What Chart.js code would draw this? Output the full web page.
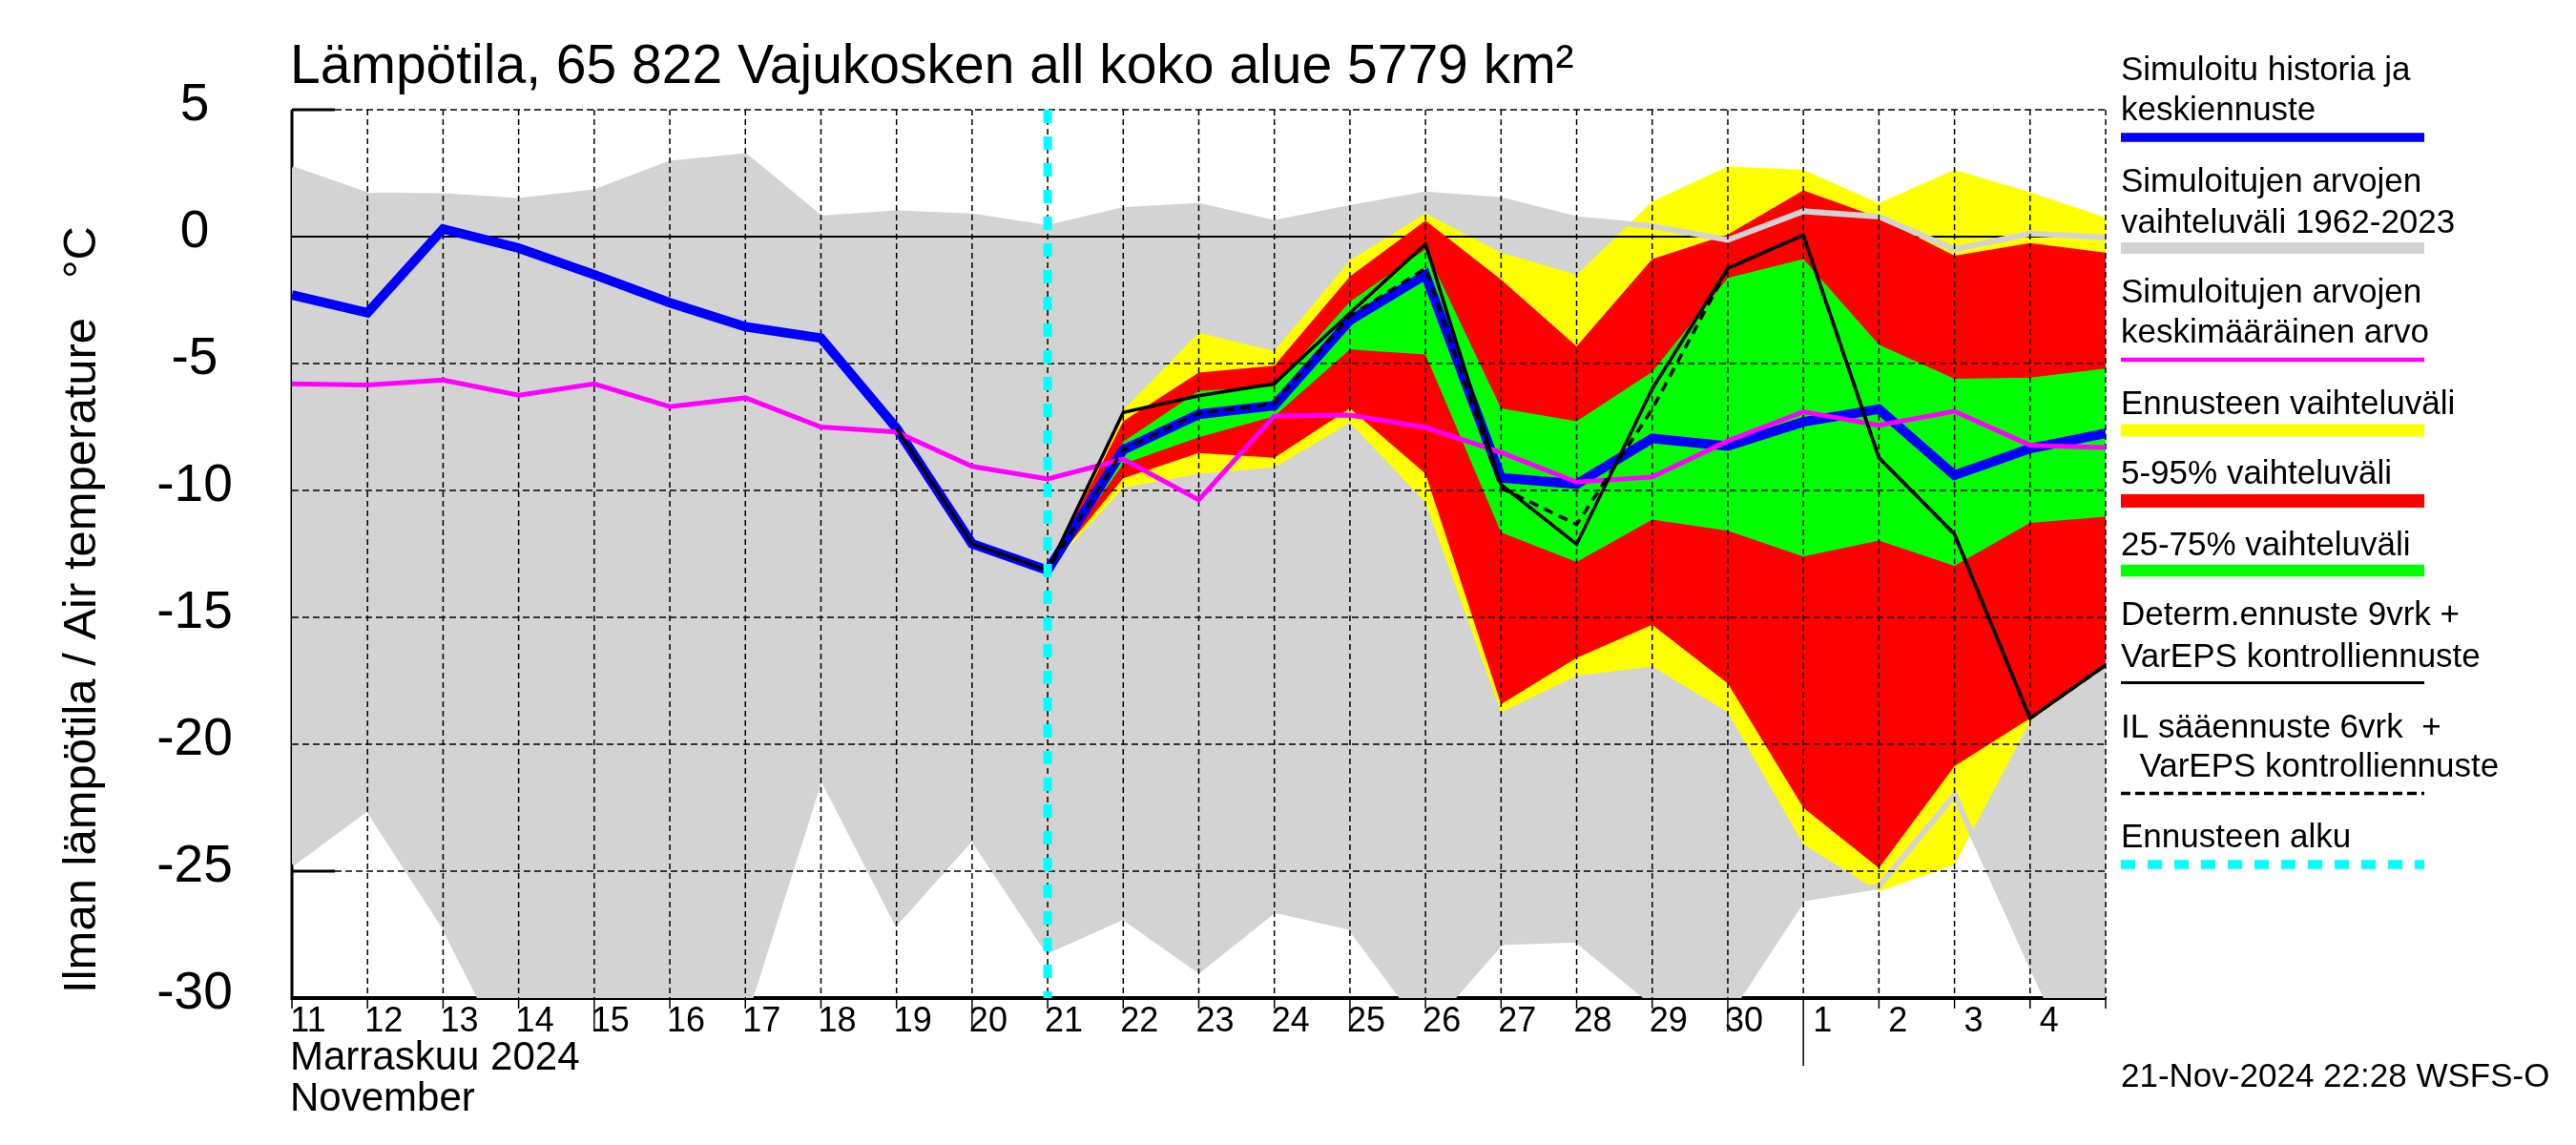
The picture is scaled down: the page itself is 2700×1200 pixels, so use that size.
<!DOCTYPE html>
<html>
<head>
<meta charset="utf-8">
<script src="https://cdn.jsdelivr.net/npm/chart.js@4.4.1/dist/chart.umd.min.js"></script>
<style>
  html, body { margin: 0; padding: 0; background: #fff; }
  canvas { display: block; }
</style>
</head>
<body>
<canvas id="tempChart" width="2700" height="1200" style="width:2700px;height:1200px"></canvas>
<script>
// Day labels, Nov 11 .. Dec 5 (index 0..24); forecast starts at index 10 (Nov 21)
const dayLabels = ['11','12','13','14','15','16','17','18','19','20','21','22','23','24','25','26','27','28','29','30','1','2','3','4','5'];
const yTicks = [5, 0, -5, -10, -15, -20, -25, -30];
const forecastStart = 10;

// Simulated history + median forecast
const simMedian = [-2.3, -3.0, 0.3, -0.45, -1.5, -2.6, -3.55, -4.0, -7.55, -12.1, -13.15, -8.4, -7.0, -6.65, -3.3, -1.5, -9.5, -9.75, -7.95, -8.25, -7.3, -6.8, -9.4, -8.35, -7.75];
// Mean of simulated values (climatology)
const climMean = [-5.8, -5.85, -5.65, -6.25, -5.8, -6.7, -6.35, -7.5, -7.7, -9.05, -9.55, -8.77, -10.37, -7.07, -7.03, -7.52, -8.5, -9.67, -9.47, -8.05, -6.9, -7.43, -6.88, -8.22, -8.31];
// Range of simulated values 1962-2023
const climMax = [2.67, 1.63, 1.6, 1.41, 1.75, 2.88, 3.17, 0.71, 0.92, 0.8, 0.34, 1.04, 1.21, 0.54, 1.13, 1.66, 1.44, 0.69, 0.41, -0.13, 1.0, 0.79, -0.5, 0.12, -0.03];
const climMin = [-24.7, -22.5, -27.1, -33, -33, -33, -30.6, -21.2, -27.0, -23.66, -28.13, -26.8, -28.9, -26.53, -27.2, -31.2, -27.8, -27.7, -30.15, -30.6, -26.07, -25.6, -22.0, -28.6, -35];

// Forecast bands, index 10..24 (Nov 21 .. Dec 5)
const ensMax = [-13.15, -6.83, -3.79, -4.51, -0.94, 0.91, -0.63, -1.5, 1.38, 2.76, 2.63, 1.32, 2.63, 1.75, 0.75];
const ensMin = [-13.15, -9.9, -9.34, -9.09, -7.33, -10.47, -18.74, -17.3, -16.94, -18.74, -23.94, -25.8, -24.75, -19.1, -16.95];
const p95 = [-13.15, -7.27, -5.36, -5.08, -1.57, 0.63, -1.69, -4.32, -0.88, 0.08, 1.82, 0.75, -0.75, -0.25, -0.63];
const p05 = [-13.15, -9.52, -8.52, -8.71, -6.77, -9.34, -18.42, -16.6, -15.29, -17.6, -22.5, -24.88, -20.86, -18.98, -16.9];
const p75 = [-13.15, -8.08, -6.08, -5.9, -2.57, -0.5, -6.77, -7.27, -5.33, -1.63, -0.88, -4.26, -5.6, -5.55, -5.2];
const p25 = [-13.15, -8.96, -7.9, -7.08, -4.45, -4.64, -11.65, -12.82, -11.15, -11.59, -12.6, -11.97, -12.97, -11.28, -11.03];

// Deterministic and IL forecasts, index 8..24 (Nov 19 .. Dec 5)
const detStart = 8;
const detForecast = [-7.55, -12.1, -13.15, -6.93, -6.27, -5.79, -3.01, -0.29, -9.77, -12.12, -6.0, -1.25, 0.06, -8.71, -11.72, -18.98, -16.88];
const ilForecast = [-7.55, -12.1, -13.15, -8.4, -6.96, -6.58, -3.13, -1.25, -9.9, -11.34, -6.8, -1.25, 0.06, -8.71, -11.72, -18.98, -16.88];

const GREY = '#d3d3d3';
const FONT = '"Liberation Sans", Arial, Helvetica, sans-serif';

const pts = (arr, start) => arr.map((v, i) => ({ x: start + i, y: v }));

function edge(data, order) {
  return { data, borderColor: 'rgba(0,0,0,0)', borderWidth: 0, pointRadius: 0, fill: false, order };
}
function band(data, color, order) {
  return { data, borderColor: 'rgba(0,0,0,0)', borderWidth: 0, pointRadius: 0, fill: '-1', backgroundColor: color, order };
}
function line(data, color, width, order, dash) {
  return { data, borderColor: color, borderWidth: width, pointRadius: 0, fill: false, order, borderDash: dash || [], tension: 0 };
}

const datasets = [
  edge(pts(climMin, 0), 14),                       // 0
  band(pts(climMax, 0), GREY, 13),                  // 1
  edge(pts(ensMin, forecastStart), 12),             // 2
  band(pts(ensMax, forecastStart), '#ffff00', 11),  // 3
  edge(pts(p05, forecastStart), 10),                // 4
  band(pts(p95, forecastStart), '#ff0000', 9),      // 5
  edge(pts(p25, forecastStart), 8),                 // 6
  band(pts(p75, forecastStart), '#00ff00', 7),      // 7
  line(pts(climMax, 0), GREY, 6, 6),                // 8
  line(pts(climMin, 0), GREY, 6, 5),                // 9
  line(pts(simMedian, 0), '#0000ff', 10, 4),        // 10
  line(pts(climMean, 0), '#ff00ff', 5, 3),          // 11
  line(pts(detForecast, detStart), '#000000', 3.5, 2),        // 12
  line(pts(ilForecast, detStart), '#000000', 3.5, 1, [10, 7]) // 13
];

const legendItems = [
  { lines: ['Simuloitu historia ja', 'keskiennuste'], base: [84, 126], bar: { y: 144, w: 9.6, color: '#0000ff' } },
  { lines: ['Simuloitujen arvojen', 'vaihteluväli 1962-2023'], base: [201, 244], bar: { y: 260, w: 12, color: GREY } },
  { lines: ['Simuloitujen arvojen', 'keskimääräinen arvo'], base: [317, 359], bar: { y: 377, w: 4.5, color: '#ff00ff' } },
  { lines: ['Ennusteen vaihteluväli'], base: [434], bar: { y: 451, w: 13, color: '#ffff00' } },
  { lines: ['5-95% vaihteluväli'], base: [507], bar: { y: 525, w: 14, color: '#ff0000' } },
  { lines: ['25-75% vaihteluväli'], base: [582], bar: { y: 598, w: 12.5, color: '#00ff00' } },
  { lines: ['Determ.ennuste 9vrk +', 'VarEPS kontrolliennuste'], base: [655, 699], bar: { y: 715.5, w: 3, color: '#000000' } },
  { lines: ['IL sääennuste 6vrk  +', '  VarEPS kontrolliennuste'], base: [773, 814], bar: { y: 831.5, w: 3.5, color: '#000000', dash: [10, 5] } },
  { lines: ['Ennusteen alku'], base: [888], bar: { y: 906, w: 9.5, color: '#00ffff', dash: [15, 13] } }
];

function hLine(ctx, x0, x1, y, w, color, dash) {
  ctx.save();
  ctx.beginPath();
  ctx.setLineDash(dash || []);
  ctx.lineWidth = w;
  ctx.strokeStyle = color;
  ctx.moveTo(x0, y);
  ctx.lineTo(x1, y);
  ctx.stroke();
  ctx.restore();
}
function vLine(ctx, x, y0, y1, w, color, dash) {
  ctx.save();
  ctx.beginPath();
  ctx.setLineDash(dash || []);
  ctx.lineWidth = w;
  ctx.strokeStyle = color;
  ctx.moveTo(x, y0);
  ctx.lineTo(x, y1);
  ctx.stroke();
  ctx.restore();
}

const decorPlugin = {
  id: 'decor',
  beforeDraw(chart) {
    const ctx = chart.ctx;
    ctx.save();
    ctx.fillStyle = '#fff';
    ctx.fillRect(0, 0, chart.width, chart.height);
    ctx.restore();
  },
  beforeDatasetsDraw(chart) {
    const { ctx, chartArea: a, scales: { x, y } } = chart;
    // axes lie under the grey fill
    vLine(ctx, a.left, a.top, a.bottom + 2, 3, '#000');
    hLine(ctx, a.left - 1, a.right + 1, a.bottom, 4, '#000');
    hLine(ctx, a.left, a.left + 45, y.getPixelForValue(5), 3, '#000');
    hLine(ctx, a.left, a.left + 45, y.getPixelForValue(-25), 3, '#000');
  },
  afterDatasetDraw(chart, args) {
    const { ctx, chartArea: a, scales: { x, y } } = chart;
    if (args.index === 3) {
      hLine(ctx, a.left, a.right, y.getPixelForValue(0), 2, '#000');
    }
    if (args.index === 9) {
      ctx.save();
      ctx.beginPath();
      ctx.rect(a.left, a.top - 2, a.right - a.left + 2, a.bottom - a.top + 2);
      ctx.clip();
      for (let i = 1; i < dayLabels.length; i++) {
        vLine(ctx, x.getPixelForValue(i), a.top, a.bottom, 1.5, '#000', [6, 4]);
      }
      yTicks.forEach(v => {
        if (v === 0 || v === -30) return;
        const x0 = (v === 5 || v === -25) ? a.left + 45 : a.left;
        hLine(ctx, x0, a.right, y.getPixelForValue(v), 1.5, '#000', [7, 4]);
      });
      ctx.restore();
    }
  },
  afterDatasetsDraw(chart) {
    const { ctx, chartArea: a, scales: { x, y } } = chart;
    // forecast start
    vLine(ctx, x.getPixelForValue(forecastStart), a.top, a.bottom, 9, '#00ffff', [14, 14]);

    // x ticks below axis
    for (let i = 0; i < dayLabels.length; i++) {
      const px = x.getPixelForValue(i);
      let len = 11;
      if (i < 20 && Number(dayLabels[i]) % 5 === 0) len = 35;
      if (dayLabels[i] === '1') len = 71;
      vLine(ctx, px, a.bottom, a.bottom + len, 1.5, '#000');
    }

    ctx.save();
    ctx.fillStyle = '#000';
    // x tick labels
    ctx.font = '36px ' + FONT;
    ctx.textAlign = 'center';
    ctx.textBaseline = 'alphabetic';
    for (let i = 0; i < dayLabels.length - 1; i++) {
      const px = x.getPixelForValue(i);
      const off = dayLabels[i].length === 1 ? 20 : 17;
      ctx.fillText(dayLabels[i], px + off, 1081);
    }
    ctx.textAlign = 'left';
    ctx.font = '42px ' + FONT;
    ctx.fillText('Marraskuu 2024', 304, 1121);
    ctx.fillText('November', 304, 1164);

    // y tick labels
    ctx.font = '55px ' + FONT;
    ctx.textAlign = 'center';
    yTicks.forEach(v => {
      ctx.fillText(String(v).replace('\u2212', '-'), 204, y.getPixelForValue(v) + 11);
    });

    // y axis title
    ctx.save();
    ctx.translate(100, 639);
    ctx.rotate(-Math.PI / 2);
    ctx.font = '49px ' + FONT;
    ctx.textAlign = 'center';
    ctx.fillText('Ilman lämpötila / Air temperature   °C', 0, 0);
    ctx.restore();

    // title
    ctx.textAlign = 'left';
    ctx.font = '57px ' + FONT;
    ctx.fillText('Lämpötila, 65 822 Vajukosken all koko alue 5779 km²', 304, 87);

    // legend
    ctx.font = '35px ' + FONT;
    legendItems.forEach(item => {
      item.lines.forEach((t, k) => ctx.fillText(t, 2223, item.base[k]));
      hLine(ctx, 2223, 2541, item.bar.y, item.bar.w, item.bar.color, item.bar.dash);
    });
    ctx.fillText('21-Nov-2024 22:28 WSFS-O', 2223, 1139);
    ctx.restore();
  }
};

new Chart(document.getElementById('tempChart'), {
  type: 'line',
  data: { datasets },
  options: {
    responsive: false,
    animation: false,
    devicePixelRatio: 1,
    events: [],
    layout: { padding: { left: 306, right: 493, top: 115, bottom: 154 } },
    datasets: { line: { clip: 0 } },
    elements: { line: { borderCapStyle: 'butt', borderJoinStyle: 'miter' } },
    plugins: { legend: { display: false }, tooltip: { enabled: false } },
    scales: {
      x: { type: 'linear', min: 0, max: 24, display: false },
      y: { type: 'linear', min: -30, max: 5, display: false }
    }
  },
  plugins: [decorPlugin]
});
</script>
</body>
</html>
